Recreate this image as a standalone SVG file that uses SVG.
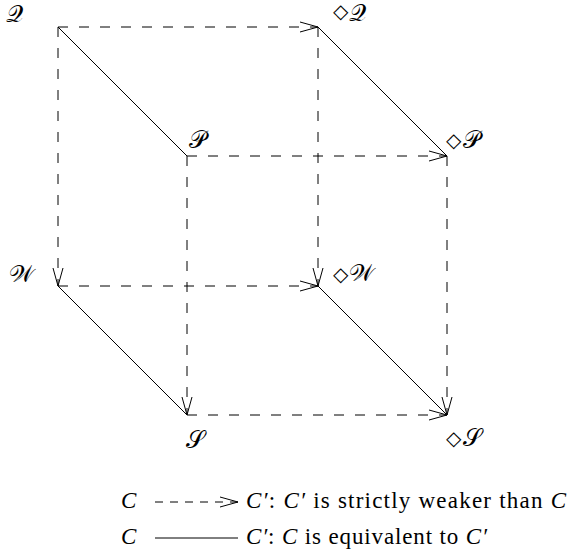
<svg xmlns="http://www.w3.org/2000/svg" width="568" height="554" viewBox="0 0 568 554">
<defs>
<marker id="ah" markerUnits="userSpaceOnUse" viewBox="-19 -6 20 12" markerWidth="20" markerHeight="12" refX="0" refY="0" orient="auto" overflow="visible">
<path d="M-18,-5 L0,0 L-18,5" fill="none" stroke="#000" stroke-width="1"/>
</marker>
</defs>
<style>
.d{stroke:#000;stroke-width:1;fill:none;stroke-dasharray:10 11}
.dl{stroke:#000;stroke-width:1;fill:none;stroke-dasharray:8 7}
.s{stroke:#000;stroke-width:1;fill:none}
.a{marker-end:url(#ah)}
.lb{font-family:"DejaVu Serif","Liberation Serif",serif;font-size:24px;fill:#000}
.dm{font-family:"DejaVu Sans","Liberation Sans",sans-serif;font-size:20px;fill:#000}
.lg{font-family:"Liberation Serif","Times New Roman",serif;font-size:23px;fill:#000}
.it{font-style:italic}
</style>
<rect width="568" height="554" fill="#fff"/>
<g id="connectors">
<line class="d a" x1="58" y1="27" x2="318" y2="27"/>
<line class="d a" x1="58" y1="27" x2="58" y2="286"/>
<line class="s" x1="58" y1="27" x2="187" y2="156"/>
<line class="s" x1="318" y1="27" x2="447" y2="156"/>
<line class="d a" x1="318" y1="27" x2="318" y2="286"/>
<line class="d a" x1="187" y1="156" x2="447" y2="156"/>
<line class="d a" x1="187" y1="156" x2="187" y2="415"/>
<line class="d a" x1="58" y1="286" x2="318" y2="286"/>
<line class="s" x1="58" y1="286" x2="187" y2="415"/>
<line class="s" x1="318" y1="286" x2="447" y2="415"/>
<line class="d a" x1="187" y1="415" x2="447" y2="415"/>
<line class="d a" x1="447" y1="156" x2="447" y2="415"/>
</g>
<g id="Q"><text class="lb" x="6" y="22">𝒬</text></g>
<g id="dQ"><text class="dm" x="333" y="18">◇</text><text class="lb" x="349" y="21">𝒬</text></g>
<g id="P"><text class="lb" x="189" y="148">𝒫</text></g>
<g id="dP"><text class="dm" x="446" y="147">◇</text><text class="lb" x="463" y="148">𝒫</text></g>
<g id="W"><text class="lb" x="9" y="282">𝒲</text></g>
<g id="dW"><text class="dm" x="333" y="281">◇</text><text class="lb" x="349" y="281">𝒲</text></g>
<g id="S"><text class="lb" x="186" y="448">𝒮</text></g>
<g id="dS"><text class="dm" x="446" y="445">◇</text><text class="lb" x="463" y="446">𝒮</text></g>
<g id="legend">
<text class="lg it" x="121" y="508">C</text>
<line class="dl a" x1="155" y1="502" x2="238" y2="502"/>
<text class="lg" x="246" y="508" textLength="320" lengthAdjust="spacing"><tspan class="it">C′</tspan>: <tspan class="it">C′</tspan> is strictly weaker than <tspan class="it">C</tspan></text>
<text class="lg it" x="121" y="544">C</text>
<line class="s" x1="155" y1="538" x2="238" y2="538"/>
<text class="lg" x="246" y="544" textLength="241" lengthAdjust="spacing"><tspan class="it">C′</tspan>: <tspan class="it">C</tspan> is equivalent to <tspan class="it">C′</tspan></text>
</g>
</svg>
